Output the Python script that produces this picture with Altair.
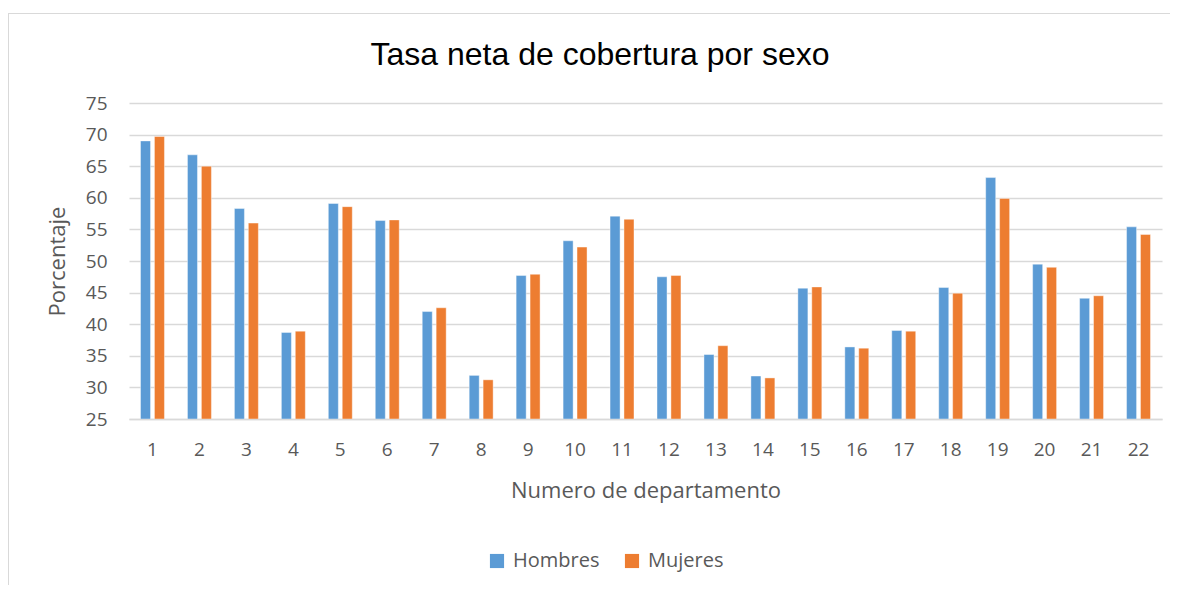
import altair as alt
import pandas as pd

departamentos = [str(i) for i in range(1, 23)]
hombres = [69.0, 66.8, 58.3, 38.7, 59.1, 56.4, 42.0, 31.9, 47.7, 53.2, 57.1,
           47.5, 35.2, 31.8, 45.7, 36.4, 39.0, 45.8, 63.2, 49.5, 44.1, 55.4]
mujeres = [69.7, 65.0, 56.0, 38.9, 58.6, 56.5, 42.6, 31.2, 47.9, 52.2, 56.6,
           47.7, 36.6, 31.5, 45.9, 36.2, 38.9, 44.9, 59.9, 49.0, 44.5, 54.2]
series = ["Hombres", "Mujeres"]
colores = ["#5B9BD5", "#ED7D31"]
titulo = "Tasa neta de cobertura por sexo"

rows = []
for d, h, m in zip(departamentos, hombres, mujeres):
    rows.append({"dep": d, "sexo": "Hombres", "valor": h})
    rows.append({"dep": d, "sexo": "Mujeres", "valor": m})
df = pd.DataFrame(rows)

FONT = "Open Sans"
GRAY = "#595959"

bars = alt.Chart(df).mark_bar(stroke="white", strokeWidth=0.6, strokeOpacity=0.7, clip=True).encode(
    x=alt.X("dep:N", sort=departamentos,
            scale=alt.Scale(paddingInner=0.49, paddingOuter=0.245),
            axis=alt.Axis(title="Numero de departamento", labelAngle=0, ticks=False,
                          domain=True, domainColor="#D9D9D9", domainWidth=1.3,
                          labelPadding=21, titlePadding=21)),
    xOffset=alt.XOffset("sexo:N", sort=series,
                        scale=alt.Scale(paddingInner=0.28, paddingOuter=0)),
    y=alt.Y("valor:Q", scale=alt.Scale(domain=[25, 75], nice=False, zero=False),
            axis=alt.Axis(title="Porcentaje", values=list(range(25, 80, 5)), ticks=False,
                          domain=False, labelPadding=22, titlePadding=16,
                          grid=True, gridColor="#D9D9D9", gridWidth=1.3)),
    y2=alt.Y2(datum=25),
    color=alt.Color("sexo:N", sort=series,
                    scale=alt.Scale(domain=series, range=colores),
                    legend=alt.Legend(title=None, orient="none", direction="horizontal",
                                      legendX=358, legendY=448, symbolType="square",
                                      symbolSize=200, symbolStrokeWidth=0,
                                      labelFont=FONT, labelFontSize=20, labelColor=GRAY,
                                      labelOffset=6, columnPadding=22)),
)

one = pd.DataFrame({"a": [0]})
border_top = alt.Chart(one).mark_rule(color="#D9D9D9", strokeWidth=1).encode(
    x=alt.value(-121), x2=alt.value(1045), y=alt.value(-89.5)
)
border_left = alt.Chart(one).mark_rule(color="#D9D9D9", strokeWidth=1).encode(
    x=alt.value(-120.5), y=alt.value(-90), y2=alt.value(490)
)
title_text = alt.Chart(one).mark_text(
    font="Liberation Sans", fontSize=32, color="black", align="center", baseline="alphabetic"
).encode(x=alt.value(471), y=alt.value(-38), text=alt.value(titulo))

chart = alt.layer(border_top, border_left, title_text, bars).properties(
    width=1033, height=316,
    padding={"left": 121, "top": 95, "right": 8, "bottom": 166},
    autosize=alt.AutoSizeParams(type="none"),
).configure_view(stroke=None).configure_axis(
    labelFont=FONT, labelFontSize=19, labelColor=GRAY,
    titleFont=FONT, titleFontSize=22, titleColor=GRAY, titleFontWeight="normal",
)

chart.save("out.html", embed_options={"renderer": "svg", "actions": False})
